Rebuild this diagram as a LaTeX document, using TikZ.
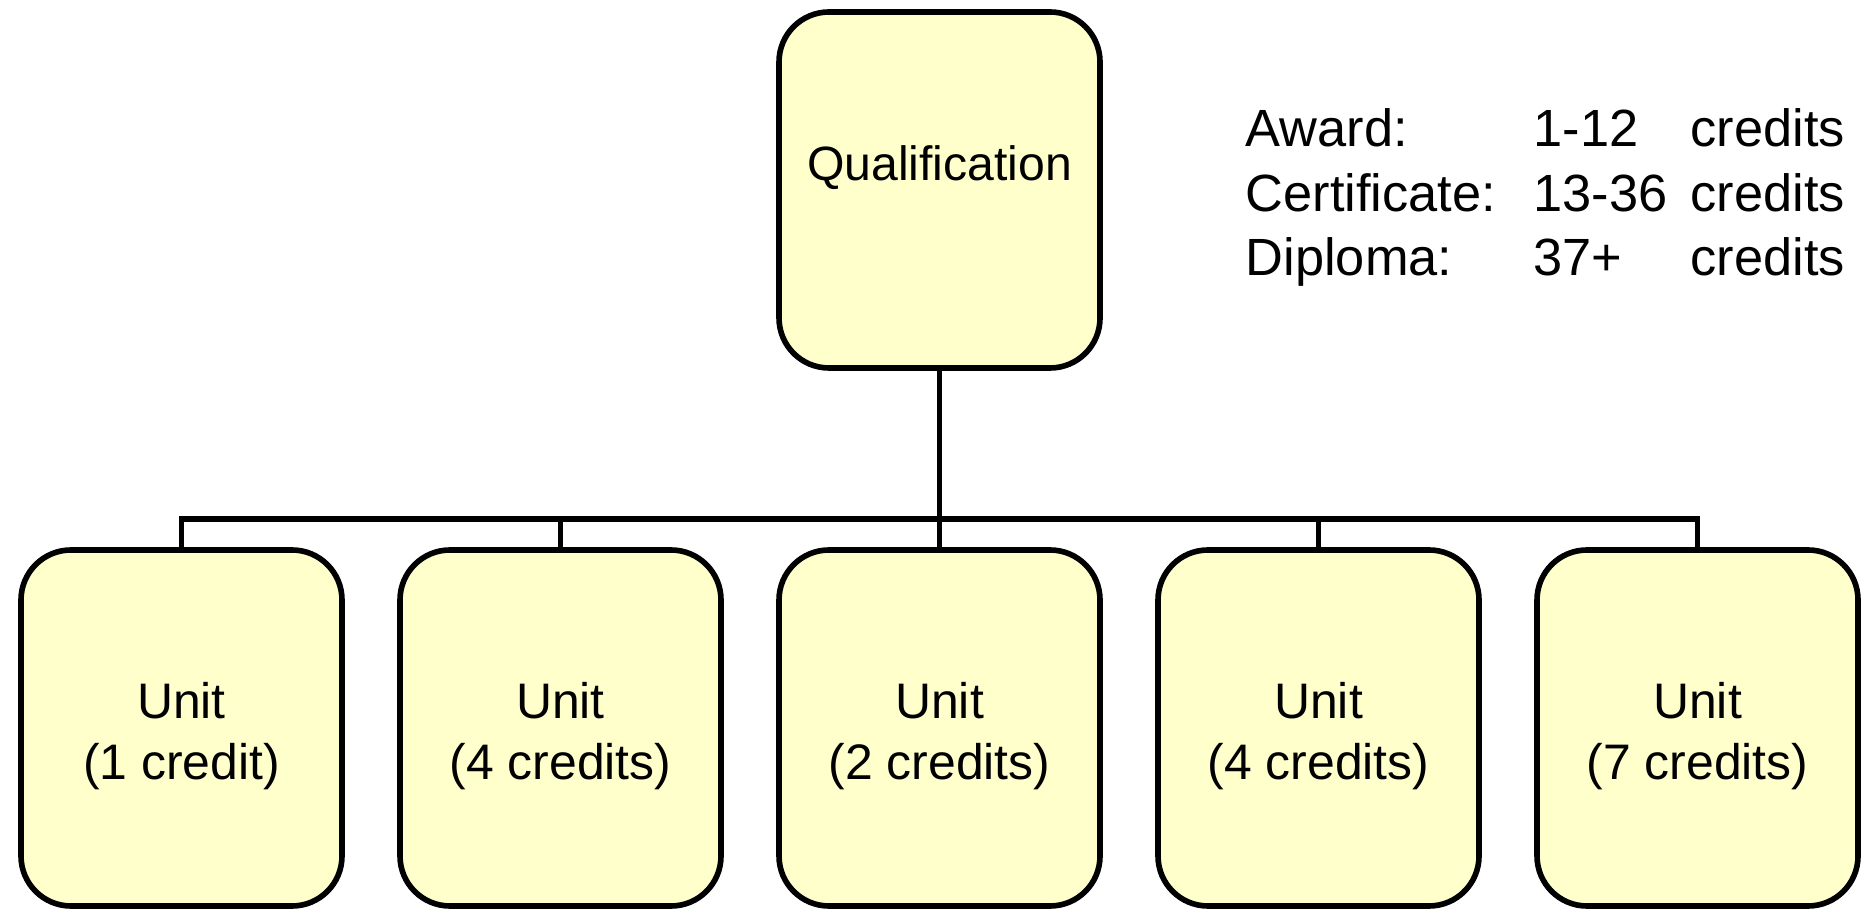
\documentclass[tikz,border=0pt]{standalone}
\usepackage{fontspec}
\setmainfont{Liberation Sans}
\usepackage{tikz}
\usetikzlibrary{arrows, positioning}
\usepackage{xcolor}
\definecolor{boxfill}{HTML}{FFFFCC}
\newcommand{\unitlbl}[1]{\rule{0pt}{0.52cm}Unit\\(#1)}

\begin{document}
\begin{tikzpicture}[node distance=3.79cm,on grid,auto]
    \tikzstyle{box}=[shape=rectangle,rounded corners=0.5cm,draw,line width=1.6pt,fill=boxfill,
        minimum width=3.21cm,minimum height=3.56cm,inner sep=0pt,align=center,
        font=\fontsize{14.2}{17.4}\selectfont]
    \tikzstyle{topbox}=[box,font=\fontsize{13.7}{16.8}\selectfont,text height=0.36cm,text depth=0.54cm]
    \useasboundingbox (0,0) rectangle (18.63,9.10);

    \node[topbox] (Q) at (9.395,7.20) {Qualification};
    \node[box, node distance=5.38cm, below of=Q] (U3) {\unitlbl{2 credits}};
    \node[box, left of=U3] (U2) {\unitlbl{4 credits}};
    \node[box, left of=U2] (U1) {\unitlbl{1 credit}};
    \node[box, right of=U3] (U4) {\unitlbl{4 credits}};
    \node[box, right of=U4] (U5) {\unitlbl{7 credits}};

    \node[anchor=base west, inner sep=0pt, font=\fontsize{14.9}{18.3}\selectfont] (legend) at (12.45,7.63)
    {\begin{tabular}[t]{@{}p{2.88cm}@{}p{1.57cm}@{}l@{}}
        Award: & 1-12 & credits\\
        Certificate: & 13-36 & credits\\
        Diploma: & 37+ & credits
    \end{tabular}};

    \path[draw, line width=1.6pt]
    (Q) -- (U3)
    (U1.north) -- ++(0,0.28) -| (U5.north)
    (U2.north) -- ++(0,0.28)
    (U4.north) -- ++(0,0.28)
    ;
\end{tikzpicture}
\end{document}
